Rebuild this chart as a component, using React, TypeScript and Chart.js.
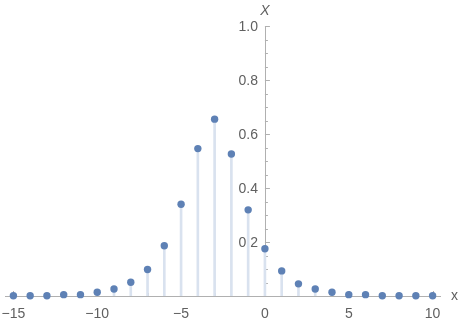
import React, { useEffect, useRef } from "react";
import { Chart, registerables } from "chart.js";

Chart.register(...registerables);

const xValues = [-15, -14, -13, -12, -11, -10, -9, -8, -7, -6, -5, -4, -3, -2, -1, 0, 1, 2, 3, 4, 5, 6, 7, 8, 9, 10];
const yValues = [0.001, 0.001, 0.001, 0.005, 0.005, 0.014, 0.026, 0.051, 0.098, 0.186, 0.34, 0.546, 0.655, 0.526, 0.319, 0.175, 0.093, 0.045, 0.026, 0.014, 0.005, 0.005, 0.001, 0.001, 0.001, 0.001];
const xTickLabels = [-15, -10, -5, 0, 5, 10];
const yTickLabels = [0.2, 0.4, 0.6, 0.8, 1.0];
const xMinorTicks = xValues;
const yMinorTicks = [0.05, 0.1, 0.15, 0.25, 0.3, 0.35, 0.45, 0.5, 0.55, 0.65, 0.7, 0.75, 0.85, 0.9, 0.95];
const xAxisTitle = "x";
const yAxisTitle = "X";

const AXIS_COLOR = "#b0b0b0";
const LABEL_COLOR = "#606060";
const FONT = "Liberation Sans, Arial, sans-serif";

const axesPlugin = {
  id: "mmaAxes",
  beforeDatasetsDraw(chart: any) {
    const ctx = chart.ctx;
    const xs = chart.scales.x;
    const ys = chart.scales.y;
    const x0 = xs.getPixelForValue(0);
    const y0 = ys.getPixelForValue(0);
    ctx.save();
    ctx.strokeStyle = AXIS_COLOR;
    ctx.lineWidth = 1;
    // x axis line
    ctx.beginPath();
    ctx.moveTo(xs.left, Math.round(y0) + 0.5);
    ctx.lineTo(xs.right, Math.round(y0) + 0.5);
    ctx.stroke();
    // y axis line
    const yTop = ys.getPixelForValue(yTickLabels[yTickLabels.length - 1]);
    ctx.beginPath();
    ctx.moveTo(Math.round(x0) + 0.5, y0);
    ctx.lineTo(Math.round(x0) + 0.5, yTop);
    ctx.stroke();
    // x ticks (pointing up)
    xMinorTicks.forEach((v) => {
      const px = Math.round(xs.getPixelForValue(v)) + 0.5;
      const len = xTickLabels.includes(v) ? 5 : 3;
      ctx.beginPath();
      ctx.moveTo(px, y0);
      ctx.lineTo(px, y0 - len);
      ctx.stroke();
    });
    // y ticks (pointing right)
    [...yMinorTicks, ...yTickLabels].forEach((v) => {
      const py = Math.round(ys.getPixelForValue(v)) + 0.5;
      const len = yTickLabels.includes(v) ? 5 : 3;
      ctx.beginPath();
      ctx.moveTo(x0, py);
      ctx.lineTo(x0 + len, py);
      ctx.stroke();
    });
    // labels
    ctx.fillStyle = LABEL_COLOR;
    ctx.font = `14px ${FONT}`;
    ctx.textAlign = "center";
    ctx.textBaseline = "alphabetic";
    xTickLabels.forEach((v) => {
      const px = xs.getPixelForValue(v);
      const txt = v < 0 ? "\u2212" + Math.abs(v) : String(v);
      ctx.fillText(txt, px, y0 + 22);
    });
    ctx.textAlign = "right";
    ctx.textBaseline = "middle";
    yTickLabels.forEach((v) => {
      const py = ys.getPixelForValue(v);
      ctx.fillText(v.toFixed(1), x0 - 7, py + 1);
    });
    // axis titles
    ctx.textAlign = "left";
    ctx.textBaseline = "middle";
    ctx.fillText(xAxisTitle, xs.right + 10, y0);
    ctx.font = `italic 14px ${FONT}`;
    ctx.textAlign = "center";
    ctx.fillText(yAxisTitle, x0, yTop - 15);
    ctx.restore();
  },
};

export default function App() {
  const ref = useRef<HTMLCanvasElement | null>(null);
  useEffect(() => {
    if (!ref.current) return;
    const pts = xValues.map((x, i) => ({ x, y: yValues[i] }));
    const chart = new Chart(ref.current, {
      type: "bar",
      data: {
        datasets: [
          {
            type: "scatter",
            data: pts,
            backgroundColor: "#5e81b5",
            borderWidth: 0,
            pointRadius: 3.7,
            showLine: false,
            order: 0,
            clip: false,
          } as any,
          {
            type: "bar",
            data: pts,
            backgroundColor: "#d9e2ef",
            barThickness: 2,
            borderWidth: 0,
            order: 1,
          } as any,
        ],
      },
      options: {
        responsive: false,
        animation: false,
        devicePixelRatio: 1,
        layout: { padding: { left: 5, right: 19, top: 26, bottom: 24 } },
        plugins: { legend: { display: false }, tooltip: { enabled: false } },
        scales: {
          x: { type: "linear", min: -15.5, max: 10.5, offset: false, display: false },
          y: { type: "linear", min: 0, max: 1, display: false },
        },
      },
      plugins: [axesPlugin],
    });
    return () => chart.destroy();
  }, []);
  return (
    <canvas
      ref={ref}
      width={460}
      height={320}
      style={{ position: "fixed", left: 0, top: 0, width: 460, height: 320, background: "#fff" }}
    />
  );
}
